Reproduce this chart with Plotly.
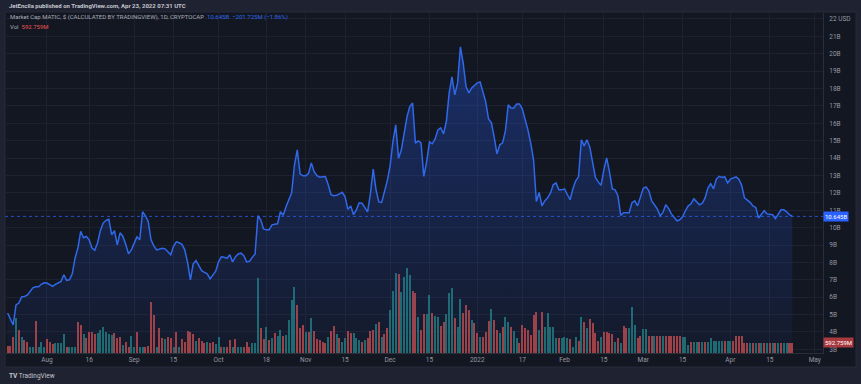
import pandas as pd
import plotly.graph_objects as go

# ---------------- data ----------------
dates = pd.date_range("2021-07-18", "2022-04-23", freq="D")

# Market cap of MATIC, billions USD (daily close)
market_cap_b = [
    5.09, 4.76, 4.41, 5.56, 5.66, 6.02, 6.04, 6.11, 6.31, 6.54,
    6.60, 6.60, 6.74, 6.83, 6.81, 6.71, 6.62, 6.74, 6.80, 6.90,
    7.29, 6.97, 7.00, 7.34, 8.26, 8.83, 9.78, 9.42, 9.49, 9.30,
    8.83, 8.70, 9.13, 9.84, 10.26, 10.42, 10.48, 9.59, 9.82, 9.01,
    9.70, 9.49, 9.04, 8.49, 8.72, 9.13, 9.47, 9.30, 10.91, 10.68,
    10.35, 9.30, 8.95, 8.72, 8.75, 8.81, 8.78, 8.61, 8.44, 8.93,
    9.18, 9.13, 9.04, 8.72, 7.99, 7.00, 7.92, 8.10, 7.80, 7.52,
    7.43, 7.34, 7.05, 7.29, 7.49, 8.03, 8.32, 8.29, 8.23, 8.44,
    8.03, 8.32, 8.49, 8.53, 8.38, 8.03, 8.06, 8.29, 8.49, 10.68,
    10.45, 9.93, 9.87, 9.87, 10.16, 10.19, 10.22, 10.91, 10.71, 11.20,
    11.60, 12.00, 13.60, 14.47, 13.09, 12.98, 12.98, 13.12, 13.72, 13.21,
    12.98, 12.90, 12.92, 12.94, 12.46, 11.89, 11.83, 11.86, 11.94, 12.03,
    11.77, 11.05, 11.25, 10.74, 11.02, 11.43, 11.40, 11.14, 10.90, 11.94,
    13.36, 12.17, 11.48, 11.45, 12.06, 12.69, 13.55, 14.93, 15.91, 13.99,
    14.47, 15.45, 16.37, 16.96, 17.16, 14.86, 14.99, 14.87, 12.94, 13.80,
    14.93, 14.82, 15.10, 15.62, 15.74, 15.39, 16.10, 17.73, 18.67, 17.63,
    18.32, 20.39, 19.45, 18.11, 17.75, 18.03, 18.20, 18.32, 18.38, 17.86,
    17.23, 16.25, 16.04, 15.22, 14.24, 14.76, 14.87, 15.56, 17.06, 16.88,
    16.88, 17.11, 17.11, 16.83, 16.25, 15.62, 14.86, 13.90, 11.50, 12.02,
    11.25, 11.54, 11.71, 11.98, 12.46, 12.57, 12.17, 12.17, 12.23, 11.89,
    11.60, 12.23, 12.69, 12.92, 15.05, 14.70, 15.05, 14.63, 13.72, 12.89,
    12.63, 12.43, 13.32, 14.01, 13.21, 12.23, 12.17, 11.83, 10.70, 10.86,
    10.86, 10.86, 11.43, 11.54, 11.25, 11.71, 12.26, 12.34, 12.11, 11.54,
    11.28, 11.08, 10.68, 10.87, 11.31, 11.11, 10.79, 10.59, 10.39, 10.45,
    10.62, 10.97, 11.25, 11.37, 11.66, 11.48, 11.31, 11.40, 11.71, 12.27,
    12.52, 12.23, 12.79, 12.95, 12.89, 12.92, 12.57, 12.79, 12.86, 12.92,
    12.78, 12.43, 11.71, 11.60, 11.45, 11.25, 11.16, 10.55, 10.75, 10.97,
    10.79, 10.76, 10.74, 10.51, 10.74, 11.02, 11.02, 10.91, 10.74, 10.645,
]

# Daily volume, millions USD
volume_m = [
    422, 422, 939, 1994, 1323, 939, 748, 652, 364, 364,
    1840, 364, 652, 364, 805, 652, 498, 556, 594, 594,
    1074, 364, 364, 364, 364, 1764, 1610, 1074, 843, 1189,
    1227, 1074, 1131, 1323, 1514, 1189, 1074, 1035, 1131, 882,
    920, 460, 652, 364, 997, 364, 1189, 364, 364, 364,
    422, 2914, 2185, 364, 1457, 843, 786, 939, 882, 364,
    1189, 364, 805, 652, 1265, 1189, 1074, 690, 843, 690,
    556, 652, 556, 613, 498, 939, 364, 364, 364, 748,
    364, 805, 364, 364, 364, 652, 364, 594, 594, 4294,
    1457, 805, 1514, 748, 882, 1131, 997, 1323, 997, 1035,
    1898, 3067, 3815, 2760, 1419, 1610, 1189, 1227, 2032, 1265,
    805, 767, 652, 556, 939, 1265, 1572, 1074, 882, 652,
    843, 1284, 1131, 1131, 843, 748, 652, 748, 843, 1265,
    1323, 1649, 1764, 939, 1074, 1419, 2473, 3566, 4582,
    4524, 3527, 4390, 4869, 4486,
    3566, 3431, 2090, 1323, 2224, 2224, 3336, 2281, 2147, 2090,
    1572, 1802, 2224, 3431, 3719, 2032, 1514, 3106, 2281,
    2760, 2473, 1898, 1706, 1131, 939, 939, 1227,
    1840, 2530, 1898, 1323, 1131, 1514, 2090, 1802, 1514, 1265, 882, 556, 1610, 1457, 1323,
    1035, 2185, 2377, 1323, 2339, 1514, 2281, 1514, 1514, 843, 843, 882, 939, 843, 805, 364, 939, 690,
    2090, 1802, 1419, 1955, 1706, 1131, 690, 939, 1189, 1227, 1131,
    1074, 652, 843, 556, 1572, 1419, 1457, 2665, 1610, 882, 997,
    1361, 1380, 997, 997, 997, 997, 997, 997, 997, 997, 997, 997, 997, 997,
    939, 939, 460, 652, 652, 652, 652, 652, 652, 652, 882,
    690, 690, 690, 690, 690, 690, 690, 690, 997, 997, 997, 594,
    594, 594, 594, 594, 594, 594, 594, 594, 594, 594, 594, 594, 594, 594, 594, 594, 592.759,
]

# 1 = up day (teal), 0 = down day (red)
volume_up = [
    0, 0, 0, 1, 0, 1, 0, 0, 1, 1,
    0, 1, 1, 1, 0, 0, 0, 1, 1, 1,
    1, 0, 1, 1, 1, 0, 0, 1, 0, 0,
    0, 0, 1, 1, 1, 1, 1, 1, 0, 0,
    0, 1, 0, 0, 1, 1, 0, 1, 1, 0,
    0, 0, 0, 1, 0, 0, 1, 0, 0, 1,
    0, 1, 0, 0, 0, 0, 0, 1, 0, 0,
    0, 1, 0, 0, 1, 1, 0, 1, 0, 0,
    1, 0, 1, 1, 0, 0, 0, 1, 1, 1,
    0, 0, 1, 0, 1, 0, 1, 1, 0, 1,
    1, 1, 1, 0, 0, 0, 1, 0, 1, 0,
    0, 0, 0, 0, 1, 0, 0, 1, 0, 1,
    1, 0, 0, 1, 1, 1, 0, 1, 0, 0,
    0, 1, 0, 1, 0, 0, 1, 1, 1,
    0, 1, 1, 1, 1,
    0, 0, 1, 0, 0, 1, 1, 0, 1, 1,
    0, 0, 1, 1, 1, 0, 1, 1, 0,
    0, 0, 1, 0, 0, 1, 0, 0,
    0, 1, 0, 0, 1, 0, 1, 1, 0, 1, 1, 0, 0, 0, 0,
    0, 0, 0, 1, 0, 1, 1, 1, 1, 1, 0, 1, 1, 1, 0, 1, 1, 0,
    1, 0, 1, 0, 0, 0, 0, 1, 0, 0, 0,
    0, 1, 0, 1, 0, 0, 1, 1, 1, 0, 0,
    1, 1, 0, 0, 1, 0, 0, 1, 0, 0, 0, 0, 0, 0,
    1, 1, 1, 0, 1, 1, 0, 1, 0, 1, 1,
    1, 1, 1, 1, 0, 1, 1, 0, 0, 0, 0, 0,
    0, 1, 0, 1, 0, 1, 0, 1, 0, 1, 0, 1, 0, 1, 1, 0, 0,
]

x_tick_dates = ["2021-08-01", "2021-08-16", "2021-09-01", "2021-09-15", "2021-10-01",
                "2021-10-18", "2021-11-01", "2021-11-15", "2021-12-01", "2021-12-15",
                "2022-01-01", "2022-01-17", "2022-02-01", "2022-02-15", "2022-03-01",
                "2022-03-15", "2022-04-01", "2022-04-15", "2022-05-01"]
x_tick_labels = ["Aug", "16", "Sep", "15", "Oct", "18", "Nov", "15", "Dec", "15",
                 "2022", "17", "Feb", "15", "Mar", "15", "Apr", "15", "May"]

y_tick_vals = list(range(3, 23))
y_tick_labels = [f"{v}B" for v in range(3, 22)] + ["22 USD"]

last_cap = market_cap_b[-1]
last_vol = volume_m[-1]

# ---------------- styling ----------------
FRAME = "#1f2230"
CANVAS = "#131722"
GRID = "#1d2130"
BLUE = "#2962ff"
LINE_BLUE = "#3068ea"
RED_BAR = "#a3403f"
TEAL_BAR = "#1e6b6b"
TXT = "#9598a1"
FONT = "Roboto"

bar_colors = [TEAL_BAR if u else RED_BAR for u in volume_up]

fig = go.Figure()

fig.add_trace(go.Bar(
    x=dates, y=volume_m, marker=dict(color=bar_colors, line=dict(width=0)),
    width=0.72 * 86400000, yaxis="y", hoverinfo="skip",
))

fig.add_trace(go.Scatter(
    x=dates, y=market_cap_b, mode="lines", yaxis="y2",
    line=dict(color=LINE_BLUE, width=1.5),
    fill="tozeroy",
    fillgradient=dict(type="vertical", start=2.8, stop=21.0,
                      colorscale=[[0, "rgba(41,98,255,0.04)"], [1, "rgba(41,98,255,0.33)"]]),
    hoverinfo="skip",
))

W, H = 861, 384
ML, MR, MT, MB = 5, 38, 13, 31
plot_w = W - ML - MR
plot_h = H - MT - MB


def px_x(xp):
    return (xp - ML) / plot_w


def px_y(yp):
    return (H - MB - yp) / plot_h


price_range = [2.79, 22.34]
vol_range = [0, plot_h * 57.5]

fig.update_layout(
    width=W, height=H,
    margin=dict(l=ML, r=MR, t=MT, b=MB),
    paper_bgcolor=FRAME,
    plot_bgcolor="rgba(0,0,0,0)",
    showlegend=False,
    hovermode=False,
    bargap=0,
    font=dict(family=FONT, size=6, color=TXT),
    xaxis=dict(
        type="date",
        range=["2021-07-17 02:00", "2022-05-03 22:00"],
        tickmode="array", tickvals=x_tick_dates, ticktext=x_tick_labels,
        showgrid=True, gridcolor=GRID, gridwidth=1,
        showline=True, linecolor="#2a2e39", linewidth=1,
        ticks="", tickfont=dict(size=6.5, color=TXT, family=FONT),
        zeroline=False, fixedrange=True,
    ),
    yaxis=dict(
        range=vol_range, visible=False, showgrid=False, zeroline=False, fixedrange=True,
    ),
    yaxis2=dict(
        overlaying="y", side="right", range=price_range,
        tickmode="array", tickvals=y_tick_vals, ticktext=y_tick_labels,
        showgrid=True, gridcolor=GRID, gridwidth=1,
        showline=True, linecolor="#2a2e39", linewidth=1,
        ticks="", ticklabelstandoff=4,
        tickfont=dict(size=6.5, color=TXT, family=FONT),
        zeroline=False, fixedrange=True,
    ),
)

# dark chart canvas with its thin border
fig.add_shape(type="rect", xref="paper", yref="paper",
              x0=px_x(5), x1=px_x(856), y0=px_y(367), y1=px_y(12),
              fillcolor=CANVAS, line=dict(color="#262b3b", width=1), layer="below")

# last-price dotted line
fig.add_shape(type="line", xref="paper", yref="y2", x0=0, x1=1,
              y0=last_cap, y1=last_cap,
              line=dict(color="rgba(41,98,255,0.75)", width=1, dash="dot"))

# price-scale labels for the last values
fig.add_annotation(xref="paper", yref="y2", x=1.0, y=last_cap, xanchor="left", yanchor="middle",
                   text=f"{last_cap:.3f}B", showarrow=False, bgcolor=BLUE, borderpad=1,
                   font=dict(color="white", size=6, family=FONT))
fig.add_annotation(xref="paper", yref="y", x=1.0, y=last_vol, xanchor="left", yanchor="middle",
                   text=f"{last_vol:.3f}M", showarrow=False, bgcolor="#a8393f", borderpad=1,
                   font=dict(color="white", size=6, family=FONT))

# header texts
fig.add_annotation(xref="paper", yref="paper", x=px_x(7), y=px_y(5), xanchor="left", yanchor="middle",
                   text="<b>JetEncila published on TradingView.com, Apr 23, 2022 07:31 UTC</b>",
                   showarrow=False, font=dict(color="#c3c6ce", size=6, family=FONT))
fig.add_annotation(xref="paper", yref="paper", x=px_x(8), y=px_y(17), xanchor="left", yanchor="middle",
                   text=("Market Cap MATIC, $ (CALCULATED BY TRADINGVIEW), 1D, CRYPTOCAP  "
                         f"<span style='color:{LINE_BLUE}'>{last_cap:.3f}B  \u2212201.725M (\u22121.86%)</span>"),
                   showarrow=False, font=dict(color="#a9acb5", size=6, family=FONT))
fig.add_annotation(xref="paper", yref="paper", x=px_x(8), y=px_y(26.5), xanchor="left", yanchor="middle",
                   text=f"Vol  <span style='color:#ef5350'>{last_vol:.3f}M</span>",
                   showarrow=False, font=dict(color="#a9acb5", size=6, family=FONT))

# TradingView logo text
fig.add_annotation(xref="paper", yref="paper", x=px_x(7), y=px_y(375.5), xanchor="left", yanchor="middle",
                   text="<b>TV</b> TradingView", showarrow=False,
                   font=dict(color="#c3c6ce", size=6.5, family=FONT))

fig.write_html(
    "out.html",
    config={"displayModeBar": False, "staticPlot": True},
    post_script="document.body.style.margin='0';document.body.style.overflow='hidden';",
)
